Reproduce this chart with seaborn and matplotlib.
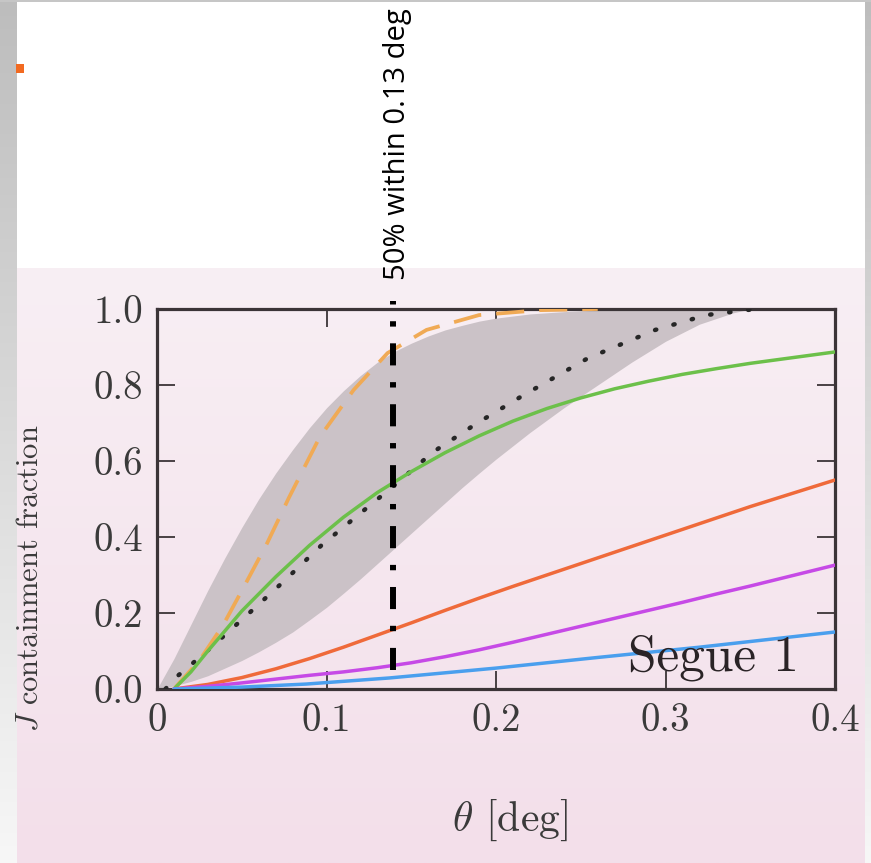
import numpy as np
import matplotlib
matplotlib.use("Agg")
import matplotlib.pyplot as plt
from matplotlib.colors import LinearSegmentedColormap
from matplotlib.patches import Rectangle
import seaborn as sns

# ---- data ----
band_x = [0, 0.01, 0.02, 0.03, 0.04, 0.05, 0.06, 0.07, 0.08, 0.09, 0.1, 0.11, 0.12, 0.13, 0.14,
          0.15, 0.16, 0.17, 0.18, 0.19, 0.2, 0.22, 0.24, 0.26, 0.28, 0.3, 0.32, 0.34, 0.35]
band_upper = [0, 0.08, 0.17, 0.26, 0.345, 0.425, 0.5, 0.568, 0.63, 0.688, 0.74, 0.785, 0.825, 0.86, 0.888,
              0.91, 0.929, 0.945, 0.957, 0.968, 0.976, 0.987, 0.993, 0.997, 0.999, 1.0, 1.0, 1.0, 1.0]
band_lower = [0, 0.008, 0.02, 0.035, 0.055, 0.075, 0.098, 0.123, 0.15, 0.182, 0.215, 0.252, 0.29, 0.33, 0.37,
              0.41, 0.45, 0.49, 0.53, 0.568, 0.605, 0.675, 0.74, 0.8, 0.86, 0.915, 0.96, 0.99, 1.0]

dotted_x = [0.005, 0.011, 0.027, 0.051, 0.074, 0.097, 0.122, 0.139, 0.163, 0.189, 0.215, 0.254, 0.294, 0.324, 0.353]
dotted_y = [0.0, 0.03, 0.09, 0.186, 0.28, 0.378, 0.47, 0.532, 0.624, 0.70, 0.77, 0.87, 0.945, 0.984, 1.0]

dashed_x = [0.01, 0.025, 0.039, 0.052, 0.065, 0.078, 0.096, 0.116, 0.136, 0.159, 0.19, 0.226, 0.26]
dashed_y = [0.0, 0.075, 0.168, 0.275, 0.384, 0.505, 0.663, 0.787, 0.884, 0.945, 0.984, 0.997, 1.0]

green_x = [0.01, 0.02, 0.03, 0.05, 0.07, 0.09, 0.11, 0.13, 0.15, 0.17, 0.19, 0.21, 0.23, 0.25,
           0.27, 0.29, 0.31, 0.33, 0.35, 0.37, 0.39, 0.4]
green_y = [0.0, 0.045, 0.10, 0.205, 0.295, 0.378, 0.452, 0.517, 0.572, 0.622, 0.666, 0.705, 0.738, 0.766,
           0.79, 0.81, 0.828, 0.843, 0.857, 0.869, 0.881, 0.887]

red_x = [0.01, 0.03, 0.05, 0.07, 0.09, 0.11, 0.13, 0.15, 0.17, 0.19, 0.21, 0.23, 0.25, 0.27,
         0.29, 0.31, 0.33, 0.35, 0.37, 0.39, 0.4]
red_y = [0.0, 0.012, 0.03, 0.053, 0.08, 0.11, 0.142, 0.174, 0.207, 0.239, 0.27, 0.30, 0.33, 0.36,
         0.39, 0.42, 0.45, 0.48, 0.508, 0.536, 0.55]

purple_x = [0.01, 0.03, 0.05, 0.07, 0.09, 0.11, 0.13, 0.15, 0.17, 0.19, 0.21, 0.23, 0.25, 0.27,
            0.29, 0.31, 0.33, 0.35, 0.37, 0.4]
purple_y = [0.0, 0.007, 0.016, 0.026, 0.036, 0.045, 0.056, 0.069, 0.085, 0.103, 0.123, 0.144, 0.165, 0.186,
            0.207, 0.228, 0.25, 0.271, 0.293, 0.326]

blue_x = [0.01, 0.05, 0.088, 0.137, 0.2, 0.26, 0.32, 0.36, 0.4]
blue_y = [0.0, 0.005, 0.013, 0.029, 0.055, 0.083, 0.11, 0.13, 0.15]

marker_x = 0.139
marker_y = [0.05, 1.02]

x_ticks = [0, 0.1, 0.2, 0.3, 0.4]
x_labels = ['0', '0.1', '0.2', '0.3', '0.4']
y_ticks = [0, 0.2, 0.4, 0.6, 0.8, 1.0]
y_labels = ['0.0', '0.2', '0.4', '0.6', '0.8', '1.0']

sns.set_theme(style='ticks')
plt.rcParams['font.family'] = ['cmr10', 'DejaVu Serif']
plt.rcParams['mathtext.fontset'] = 'cm'
plt.rcParams['axes.formatter.use_mathtext'] = True

W, H = 871, 863
fig = plt.figure(figsize=(W / 100, H / 100), dpi=100)
fig.patch.set_facecolor('white')

# slide background pieces
grad = np.linspace(0, 1, 256).reshape(-1, 1)
pink = LinearSegmentedColormap.from_list('pink', ['#f8eff4', '#f3dfea'])
bg = fig.add_axes([16 / W, 0, 849 / W, 595 / H], zorder=-10)
bg.imshow(grad, cmap=pink, aspect='auto', extent=[0, 1, 0, 1])
bg.axis('off')

grey = LinearSegmentedColormap.from_list('grey', ['#bdbdbd', '#f7f7f7'])
left = fig.add_axes([0, 0, 16 / W, 1], zorder=-10)
left.imshow(grad, cmap=grey, aspect='auto', extent=[0, 1, 0, 1])
left.axis('off')
right = fig.add_axes([865 / W, 0, 6 / W, 1], zorder=-10)
right.imshow(grad, cmap=grey, aspect='auto', extent=[0, 1, 0, 1])
right.axis('off')
fig.add_artist(Rectangle((0, 1 - 2 / H), 1, 2 / H, transform=fig.transFigure, color='#c6c6c6', lw=0))
fig.add_artist(Rectangle((16 / W, 1 - 73 / H), 8 / W, 9 / H, transform=fig.transFigure, color='#f26a21', lw=0))

# main plot
ax = fig.add_axes([157 / W, 174 / H, 678 / W, 380 / H])
ax.set_facecolor('none')

ax.fill_between(band_x, band_lower, band_upper, color='#cbc2c7', lw=0, zorder=1)
sns.lineplot(x=dotted_x, y=dotted_y, ax=ax, color='#262626', linewidth=3.2,
             linestyle=(0, (0.3, 4.0)), dash_capstyle='round', zorder=3)
sns.lineplot(x=dashed_x, y=dashed_y, ax=ax, color='#f0aa55', linewidth=2.7,
             linestyle=(0, (7.5, 4)), zorder=3)
sns.lineplot(x=green_x, y=green_y, ax=ax, color='#6cc04a', linewidth=2.5, zorder=4)
sns.lineplot(x=red_x, y=red_y, ax=ax, color='#ef6a3a', linewidth=2.5, zorder=4)
sns.lineplot(x=purple_x, y=purple_y, ax=ax, color='#c64ae6', linewidth=2.5, zorder=4)
sns.lineplot(x=blue_x, y=blue_y, ax=ax, color='#4a9fee', linewidth=2.5, zorder=4)

ax.plot([marker_x, marker_x], marker_y, color='black', linewidth=4.3,
        linestyle=(0, (3.7, 2.8, 0.9, 2.8)), clip_on=False, zorder=6)

ax.text(0.379, 0.05, 'Segue 1', fontsize=37, color='#2a2326', ha='right',
        va='baseline', zorder=5)

ax.set_xlim(0, 0.4)
ax.set_ylim(0, 1.0)
ax.set_xticks(x_ticks, x_labels)
ax.set_yticks(y_ticks, y_labels)
ax.tick_params(direction='in', length=13, width=1.3, top=True, right=True,
               labelsize=28, pad=10, colors='#3b3437', labelcolor='#3a3a3a')
for s in ax.spines.values():
    s.set_linewidth(2.3)
    s.set_color('#3b3437')
    s.set_visible(True)
ax.set_xlabel('')
ax.set_ylabel('')

fig.text(30 / W, 1 - 578 / H, r'$J$ containment fraction', rotation=90,
         fontsize=22, ha='center', va='center', color='#3a3a3a')
fig.text(510 / W, 1 - 820 / H, r'$\theta$ [deg]', fontsize=30,
         ha='center', va='center', color='#3a3a3a')
fig.text(397 / W, 1 - 144 / H, '50% within 0.13 deg', rotation=90,
         fontsize=21, ha='center', va='center', color='black',
         family=['Open Sans', 'DejaVu Sans'])

fig.savefig('out.png', dpi=100)
